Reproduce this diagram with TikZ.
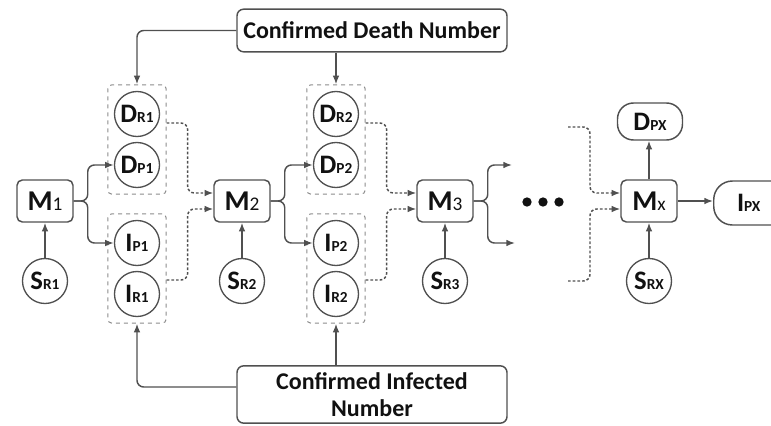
\documentclass[tikz,border=0pt]{standalone}
\usepackage{fontspec}
\setmainfont{Carlito}
\usetikzlibrary{fit,arrows.meta}
\definecolor{linegray}{HTML}{505050}
\definecolor{boxgray}{HTML}{8C8C8C}
\definecolor{ink}{HTML}{111111}

% labels: big letter, small index on the baseline
\newcommand{\mlab}[2]{{\fontsize{21.5}{22}\selectfont\bfseries #1}{\fontsize{14.5}{15}\selectfont #2}}
\newcommand{\slab}[2]{{\fontsize{20}{20}\selectfont\bfseries #1}{\fontsize{11.5}{12}\selectfont\bfseries #2}}

\tikzset{
  mbox/.style={draw=linegray,line width=1.1pt,rounded corners=4pt,minimum width=42pt,minimum height=31.5pt,inner sep=0pt,text=ink},
  state/.style={circle,draw=linegray,line width=1pt,minimum size=33.75pt,inner sep=0pt,text=ink},
  group/.style={draw=boxgray,dashed,line width=.75pt,rounded corners=3pt,inner xsep=4.5pt,inner ysep=4.5pt},
  endbox/.style={draw=linegray,line width=1.1pt,rounded corners=12pt,inner sep=0pt,text=ink},
  infobox/.style={draw=linegray,line width=1.1pt,rounded corners=5pt,minimum width=202.5pt,inner sep=0pt,align=center,text=ink,font=\fontsize{18}{20.5}\selectfont\bfseries},
  flow/.style={->,draw=linegray,line width=1.1pt,rounded corners=5pt},
  feed/.style={flow,dash pattern=on 2pt off 1.5pt}
}

\begin{document}
\begin{tikzpicture}[x=.75pt,y=-.75pt,>={Latex[length=6.5pt,width=5pt]}]
  \useasboundingbox (0,0) rectangle (771,425);
  \clip (0,0) rectangle (771,425);

  % models and their S inputs
  \foreach \k/\x/\sub in {1/45/1,2/242/2,3/445/3,x/649/X}{
    \node[mbox] (M\k) at (\x,201) {\mlab{M}{\k}};
    \node[state] (S\k) at (\x,281) {\slab{S}{R\sub}};
    \draw[flow] (S\k) -- (M\k);
  }

  % D and I states
  \foreach \k/\x in {1/137,2/336}{
    \node[state] (DR\k) at (\x,114) {\slab{D}{R\k}};
    \node[state] (DP\k) at (\x,165) {\slab{D}{P\k}};
    \node[state] (IP\k) at (\x,243) {\slab{I}{P\k}};
    \node[state] (IR\k) at (\x,294) {\slab{I}{R\k}};
    \node[group,fit=(DR\k)(DP\k)] (Dg\k) {};
    \node[group,fit=(IP\k)(IR\k)] (Ig\k) {};
    \draw[flow] (M\k.east) -- ++(14,0) |- (DP\k.west);
    \draw[flow] (M\k.east) -- ++(14,0) |- (IP\k.west);
  }

  % feed to the next model
  \foreach \k/\n in {1/2,2/3}{
    \draw[feed] (Dg\k.east |- 0,123) -- ++(21,0) |- ([yshift=6pt]M\n.west);
    \draw[feed] (Ig\k.east |- 0,280) -- ++(21,0) |- ([yshift=-6pt]M\n.west);
  }

  % M3 outputs
  \coordinate (o3a) at (512,165);
  \coordinate (o3b) at (515,243);
  \draw[flow] (M3.east) -- ++(14,0) |- (o3a);
  \draw[flow] (M3.east) -- ++(14,0) |- (o3b);

  \foreach \x in {527,543,559}
    \fill[ink] (\x,202) circle (3.5pt);

  % Mx inputs
  \coordinate (ix1) at (568,127);
  \coordinate (ix2) at (568,281);
  \draw[feed] (ix1) -- ++(22,0) |- ([yshift=6pt]Mx.west);
  \draw[feed] (ix2) -- ++(22,0) |- ([yshift=-6pt]Mx.west);

  % Mx outputs
  \node[endbox,minimum width=48.75pt,minimum height=27.75pt] (DPX) at (650,121.5) {\slab{D}{PX}};
  \node[endbox,anchor=west,minimum width=70pt,minimum height=33pt,rounded corners=14pt] (IPX) at (713,203) {\slab{I}{PX}\kern17.5pt};
  \draw[flow] (Mx) -- (Mx |- DPX.south);
  \draw[flow] (Mx.east) -- (Mx.east -| IPX.west);

  % confirmed data
  \node[infobox,minimum height=32pt] (death) at (372,30.5) {Confirmed Death Number};
  \node[infobox,minimum height=43pt] (infected) at (372,394.5) {Confirmed Infected\\Number};
  \draw[flow] (death.west) -| (Dg1.north);
  \draw[flow] (death.south -| Dg2.north) -- (Dg2.north);
  \draw[flow] (infected.west |- 0,387) -| (Ig1.south);
  \draw[flow] (infected.north -| Ig2.south) -- (Ig2.south);
\end{tikzpicture}
\end{document}
